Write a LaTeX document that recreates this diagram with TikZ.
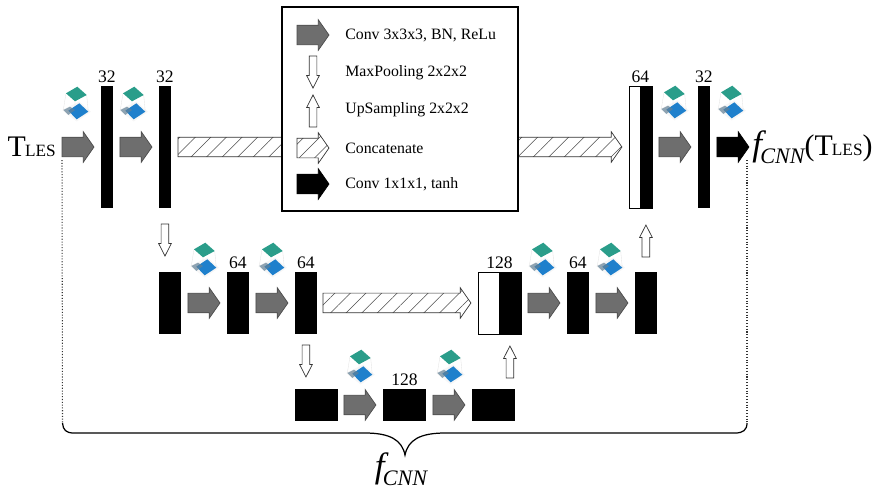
\documentclass[tikz,border=0pt]{standalone}
\usepackage{fontspec}
\setmainfont{Liberation Serif}
\usepackage{xcolor}
\usepackage{tikz}
\usetikzlibrary{shapes.arrows, positioning, patterns.meta}

\definecolor{convgray}{HTML}{6E6E6E}
\definecolor{kernelteal}{HTML}{2A9D8A}
\definecolor{kernelblue}{HTML}{1F80CC}

\newcommand{\tles}{{\fontsize{17}{18}\selectfont T\kern-0.5pt\fontsize{9.8}{10}\selectfont LES}}
\newcommand{\fcnn}{{\fontsize{20}{21}\selectfont\itshape f\kern-1pt\raisebox{-0.22em}{\fontsize{12.6}{14}\selectfont CNN}}}

\tikzset{
    kernel/.pic={
        \fill[gray!7] (-14,16) -- (3.3,7.5) -- (15,17.7) -- (0.7,27.5) -- cycle;
        \draw[gray!22, line width=0.2pt] (-10,-0.7) -- (-12.7,16) (-1,7.3) -- (-1,16) (10.7,1) -- (12.3,17.7);
        \fill[kernelblue] (-7.7,16.7) -- (3.3,9.3) -- (12.3,17.7) -- (0.7,25.3) -- cycle;
        \fill[gray!70!kernelblue, opacity=0.7] (-12.7,16) -- (-6,12.7) -- (-1,16) -- (-7.7,21) -- cycle;
        \fill[kernelteal] (-10,-0.7) -- (1.3,-7.3) -- (10.7,1) -- (-1,7.3) -- cycle;
    }
}

\begin{document}
\begin{tikzpicture}[
    x=0.02cm, y=-0.02cm,
    node distance=0.14cm,
    font=\fontsize{9}{11}\selectfont,
    % Styles
    thinblock/.style={rectangle, fill=black, inner sep=0pt, outer sep=0pt, minimum width=0.24cm, minimum height=2.44cm},
    midblock/.style={rectangle, fill=black, inner sep=0pt, outer sep=0pt, minimum width=0.44cm, minimum height=1.24cm},
    wideblock/.style={rectangle, fill=black, inner sep=0pt, outer sep=0pt, minimum width=0.86cm, minimum height=0.64cm},
    fatarrow/.style={single arrow, inner xsep=0pt, inner ysep=0.19cm, single arrow tip angle=110, single arrow head extend=0.11cm, minimum width=0.6cm, minimum height=0.64cm, outer sep=0pt},
    conv/.style={fatarrow, draw=black!70, fill=convgray},
    convout/.style={fatarrow, draw=black, fill=black},
    concat/.style={fatarrow, draw=black!80, thin, pattern={Lines[angle=45, distance=0.22cm, line width=0.3pt]}, pattern color=black!70},
    pool/.style={single arrow, draw=black!80, fill=white, thin, inner sep=0.07cm, single arrow tip angle=54, single arrow head extend=0.05cm, minimum width=0.24cm, minimum height=0.64cm, outer sep=0pt},
    size/.style={font=\fontsize{10}{11}\selectfont, inner sep=0pt},
    keytext/.style={anchor=west, inner sep=0pt},
    link/.style={densely dotted, line width=0.6pt, black!80}
]
\useasboundingbox (0,0) rectangle (875,488);

% ------------------- TOP ROW -------------------
\node[conv, anchor=west] (c1) at (62,147) {};
\node[thinblock, right=of c1] (b1) {};
\node[conv, right=of b1] (c2) {};
\node[thinblock, right=of c2] (b2) {};
\node[concat, minimum height=8.88cm, right=of b2] (skip1) {};
\node[thinblock, minimum width=0.46cm, draw=black, fill=white, right=of skip1] (m1) {};
\node[thinblock, anchor=east] (m1b) at (m1.east) {};
\node[conv, right=of m1] (c3) {};
\node[thinblock, right=of c3] (b3) {};
\node[convout, right=of b3] (c4) {};

\node[font=\normalfont, inner sep=0pt, left=0.12cm of c1] (input) {\tles};
\node[inner sep=0pt, anchor=west, font=\normalfont] (output) at (752,147) {\fcnn{\fontsize{17}{18}\selectfont(}\tles{\fontsize{17}{18}\selectfont)}};

\node[size, above=0.06cm of b1] (s1) {32};
\node[size, above=0.06cm of b2] (s2) {32};
\node[size, above=0.06cm of m1] (s3) {64};
\node[size, above=0.06cm of b3] (s4) {32};

% ------------------- MIDDLE ROW -------------------
\node[midblock, anchor=north west] (n1) at ([yshift=-1.28cm]b2.south west) {};
\node[conv, right=of n1] (c5) {};
\node[midblock, right=of c5] (n2) {};
\node[conv, right=of n2] (c6) {};
\node[midblock, right=of c6] (n3) {};
\node[concat, minimum height=2.96cm, right=0.12cm of n3] (skip2) {};
\node[midblock, minimum width=0.86cm, draw=black, fill=white, right=of skip2] (m2) {};
\node[midblock, anchor=east] (m2b) at (m2.east) {};
\node[conv, right=of m2] (c7) {};
\node[midblock, right=of c7] (n4) {};
\node[conv, right=of n4] (c8) {};
\node[midblock, right=of c8] (n5) {};

\node[size, above=0.06cm of n2] (s5) {64};
\node[size, above=0.06cm of n3] (s6) {64};
\node[size, above=0.06cm of m2] (s7) {128};
\node[size, above=0.06cm of n4] (s8) {64};

% ------------------- BOTTOM ROW -------------------
\node[wideblock, anchor=north west] (w1) at ([yshift=-1.1cm]n3.south west) {};
\node[conv, right=0.12cm of w1] (c9) {};
\node[wideblock, right=of c9] (w2) {};
\node[conv, right=of w2] (c10) {};
\node[wideblock, right=of c10] (w3) {};

\node[size, above=0.06cm of w2] (s9) {128};

% ------------------- UP AND DOWN -------------------
\node[pool, shape border rotate=270, below=0.32cm of b2] (d1) {};
\node[pool, shape border rotate=270, below=0.22cm of n3] (d2) {};
\node[pool, shape border rotate=90, below=0.24cm of m2b] (u1) {};
\node[pool, shape border rotate=90, above=0.3cm of n5] (u2) {};

% ------------------- KERNELS -------------------
\foreach \kx/\ky in {76/94, 133/94, 674/93, 731/93, 204/250, 272/250, 542/250, 610/250, 360/357, 450/357}
    \pic at (\kx,\ky) {kernel};

% ------------------- LEGEND -------------------
\node[draw=black, fill=white, line width=0.7pt, minimum width=4.72cm, minimum height=4.08cm] (legend) at (400,109) {};
\node[conv, anchor=west] (k1) at (297,35) {};
\node[pool, shape border rotate=270, anchor=north] (k2) at (313,56) {};
\node[pool, shape border rotate=90, anchor=south] (k3) at (313,127) {};
\node[concat, anchor=west] (k4) at (297,148) {};
\node[convout, anchor=west] (k5) at (297,184) {};
\node[keytext] (t1) at (345,35) {Conv 3x3x3, BN, ReLu};
\node[keytext] (t2) at (t1.west |- 0,73) {MaxPooling 2x2x2};
\node[keytext] (t3) at (t1.west |- 0,110) {UpSampling 2x2x2};
\node[keytext] (t4) at (t1.west |- k4) {Concatenate};
\node[keytext] (t5) at (t1.west |- k5) {Conv 1x1x1, tanh};

% ------------------- BRACE -------------------
\coordinate (lt) at ([yshift=-0.26cm]c1.west);
\coordinate (bl) at (62.5,423);
\coordinate (br) at (747,423);
\coordinate (tip) at (405,455);
\draw[link] (lt) -- (bl);
\draw[link] (br |- lt) -- (br);
\draw[black, line width=0.7pt] (bl) .. controls (63,430) and (66,433) .. (74,433) -- (365,433) .. controls (390,433) and (402,440) .. (tip) .. controls (408,440) and (420,433) .. (445,433) -- (735,433) .. controls (743,433) and (747,430) .. (br);
\node[font=\normalfont, inner sep=0pt] (flabel) at (401,469) {\fcnn};

\end{tikzpicture}
\end{document}
